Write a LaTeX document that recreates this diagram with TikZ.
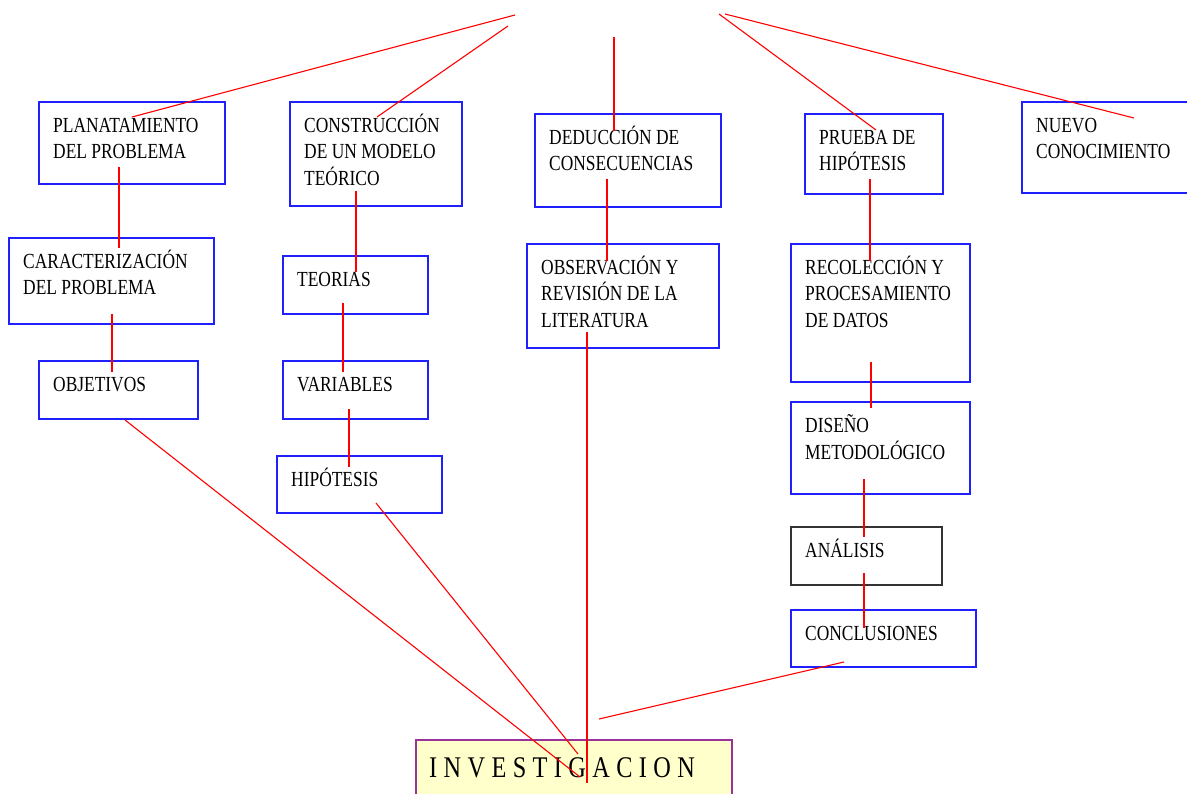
\documentclass[tikz,border=0pt]{standalone}
\usepackage{fontspec}
\setmainfont{Liberation Serif}[FakeStretch=0.81]
\definecolor{pborder}{HTML}{993399}
\definecolor{pfill}{HTML}{FFFFCC}
\definecolor{bblue}{HTML}{2020FF}
\newcommand\tl[1]{\begin{tabular}[t]{@{}l@{}}#1\end{tabular}}
\newcommand\bx[7]{%
  \node[box,#6,minimum width=#4pt,minimum height=#5pt] (#1) at (#2,#3) {};
  \node[txt] (#1t) at ([shift={(14pt,-30.5pt)}]#1.north west) {\tl{#7}};}
\newcommand\lsp{\kern6.4pt}
\begin{document}
\begin{tikzpicture}[x=1pt,y=-1pt,
  box/.style={draw=bblue, line width=1.4pt, anchor=north west, inner sep=0pt, outer sep=0pt},
  txt/.style={anchor=base west, inner sep=0pt, font=\fontsize{21.5}{26.5}\selectfont, text=black},
  link/.style={draw=red, line width=1.1pt}]
\useasboundingbox (0,0) rectangle (1187,794);
\clip (0,0) rectangle (1187,794);
% boxes
\bx{A}{39}{102}{186}{82}{}{PLANATAMIENTO\\DEL PROBLEMA}
\bx{B}{290}{102}{172}{104}{}{CONSTRUCCIÓN\\DE UN MODELO\\TEÓRICO}
\bx{C}{535}{114}{186}{93}{}{DEDUCCIÓN DE\\CONSECUENCIAS}
\bx{D}{805}{114}{138}{80}{}{PRUEBA DE\\HIPÓTESIS}
\bx{E}{1022}{102}{200}{91}{}{NUEVO\\CONOCIMIENTO}
\bx{F}{9}{238}{205}{86}{}{CARACTERIZACIÓN\\DEL PROBLEMA}
\bx{G}{39}{361}{159}{58}{}{OBJETIVOS}
\bx{H}{283}{256}{145}{58}{}{TEORIAS}
\bx{I}{283}{361}{145}{58}{}{VARIABLES}
\bx{J}{277}{456}{165}{57}{}{HIPÓTESIS}
\bx{K}{527}{244}{192}{104}{}{OBSERVACIÓN Y\\REVISIÓN DE LA\\LITERATURA}
\bx{L}{791}{244}{179}{138}{}{RECOLECCIÓN Y\\PROCESAMIENTO\\DE DATOS}
\bx{M}{791}{402}{179}{92}{}{DISEÑO\\METODOLÓGICO}
\bx{N}{791}{527}{151}{58}{draw=black!80}{ANÁLISIS}
\bx{O}{791}{610}{185}{57}{}{CONCLUSIONES}
\node[box, draw=pborder, fill=pfill, minimum width=316pt, minimum height=80pt] (P) at (416,740) {};
\node[anchor=base west, inner sep=0pt, font=\fontsize{30}{30}\selectfont] (Pt) at (429,777)
  {I\lsp N\lsp V\lsp E\lsp S\lsp T\lsp I\lsp G\lsp A\lsp C\lsp I\lsp O\lsp N};
% connector end points
\coordinate (t1) at (515,15);  \coordinate (a0) at (132,117);
\coordinate (t2) at (508,26);  \coordinate (b0) at (377,117);
\coordinate (t3) at (614,37);  \coordinate (c0) at (614,131);
\coordinate (t4) at (719,14);  \coordinate (d0) at (876,130);
\coordinate (t5) at (725,14);  \coordinate (e0) at (1134,118);
\coordinate (a1) at (119,167); \coordinate (f1) at (119,248);
\coordinate (b1) at (356,191); \coordinate (h1) at (356,272);
\coordinate (c1) at (607,179); \coordinate (k1) at (607,261);
\coordinate (d1) at (870,179); \coordinate (l1) at (870,261);
\coordinate (f2) at (112,314); \coordinate (g1) at (112,372);
\coordinate (h2) at (343,303); \coordinate (i1) at (343,372);
\coordinate (i2) at (349,409); \coordinate (j1) at (349,467);
\coordinate (l2) at (871,362); \coordinate (m1) at (871,408);
\coordinate (m2) at (864,479); \coordinate (n1) at (864,537);
\coordinate (n2) at (864,573); \coordinate (o1) at (864,628);
\coordinate (g2) at (125,420); \coordinate (p1) at (580,777);
\coordinate (j2) at (376,503); \coordinate (p2) at (578,754);
\coordinate (k2) at (587,332); \coordinate (p3) at (587,783);
\coordinate (o2) at (844,662); \coordinate (p4) at (599,719);
% connectors
\draw[link] (t1) -- (a0);
\draw[link] (t2) -- (b0);
\draw[link] (t3) -- (c0);
\draw[link] (t4) -- (d0);
\draw[link] (t5) -- (e0);
\draw[link] (a1) -- (f1);
\draw[link] (b1) -- (h1);
\draw[link] (c1) -- (k1);
\draw[link] (d1) -- (l1);
\draw[link] (f2) -- (g1);
\draw[link] (h2) -- (i1);
\draw[link] (i2) -- (j1);
\draw[link] (l2) -- (m1);
\draw[link] (m2) -- (n1);
\draw[link] (n2) -- (o1);
\draw[link] (g2) -- (p1);
\draw[link] (j2) -- (p2);
\draw[link] (k2) -- (p3);
\draw[link] (o2) -- (p4);
\end{tikzpicture}
\end{document}
